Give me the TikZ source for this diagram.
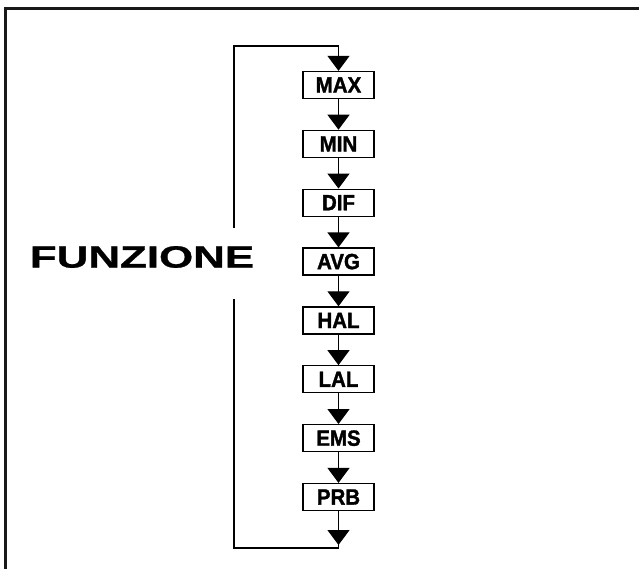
\documentclass[tikz,border=0pt]{standalone}
\usepackage{fontspec}
\setmainfont{Liberation Sans}
\newfontfamily\heavyfont[FakeBold=1.6]{Liberation Sans Bold}
\newfontfamily\titlefont[FakeBold=0.8]{Liberation Sans Bold}
\usetikzlibrary{arrows.meta,calc}
\tikzset{
  funcbox/.style={draw, line width=1.3pt, minimum width=71pt, minimum height=27pt, inner sep=0pt,
    font=\heavyfont\fontsize{22}{23}\selectfont},
  flow/.style={line width=1.3pt},
  flowarrow/.style={line width=1.3pt, -{Triangle[width=22pt,length=15pt]}},
  frameline/.style={line width=3pt, draw=black!90},
}
\newcommand{\lbl}[1]{\scalebox{0.93}[1]{#1}}
\begin{document}
\begin{tikzpicture}[x=1pt,y=-1pt]
\useasboundingbox (0,0) rectangle (639,569);
% frame
\coordinate (fbl) at (5.5,569);
\coordinate (ftl) at (5.5,9);
\coordinate (ftr) at (639,9);
\draw[frameline] (fbl) -- (ftl) -- (ftr);
% boxes
\node[funcbox] (b1) at (338.5,85) {\lbl{MAX}};
\node[funcbox] (b2) at (338.5,143.86) {\lbl{MIN}};
\node[funcbox] (b3) at (338.5,202.72) {\lbl{DIF}};
\node[funcbox] (b4) at (338.5,261.58) {\lbl{AVG}};
\node[funcbox] (b5) at (338.5,320.44) {\lbl{HAL}};
\node[funcbox] (b6) at (338.5,379.30) {\lbl{LAL}};
\node[funcbox] (b7) at (338.5,438.16) {\lbl{EMS}};
\node[funcbox] (b8) at (338.5,497.02) {\lbl{PRB}};
\foreach \a/\b in {b1/b2,b2/b3,b3/b4,b4/b5,b5/b6,b6/b7,b7/b8}
  \draw[flowarrow] (\a.south) -- (\b.north);
% label
\node[inner sep=0pt, font=\titlefont\fontsize{30.7}{32}\selectfont] (fn) at (142,257) {\scalebox{1.43}[1]{FUNZIONE}};
% loop
\coordinate (gapTop) at (234,228);
\coordinate (gapBot) at (234,299);
\coordinate (tl) at (234,46);
\coordinate (tr) at (b1.north |- tl);
\coordinate (ll) at (234,548);
\coordinate (lr) at (b8.south |- ll);
\coordinate (tip) at ($(b8.south |- ll)+(0,-3)$);
\draw[flow] (gapTop) -- (tl) -- (tr);
\draw[flowarrow] (tr) -- (b1.north);
\draw[flowarrow] (b8.south) -- (tip);
\draw[flow] (b8.south) -- (lr) -- (ll) -- (gapBot);
\end{tikzpicture}
\end{document}
